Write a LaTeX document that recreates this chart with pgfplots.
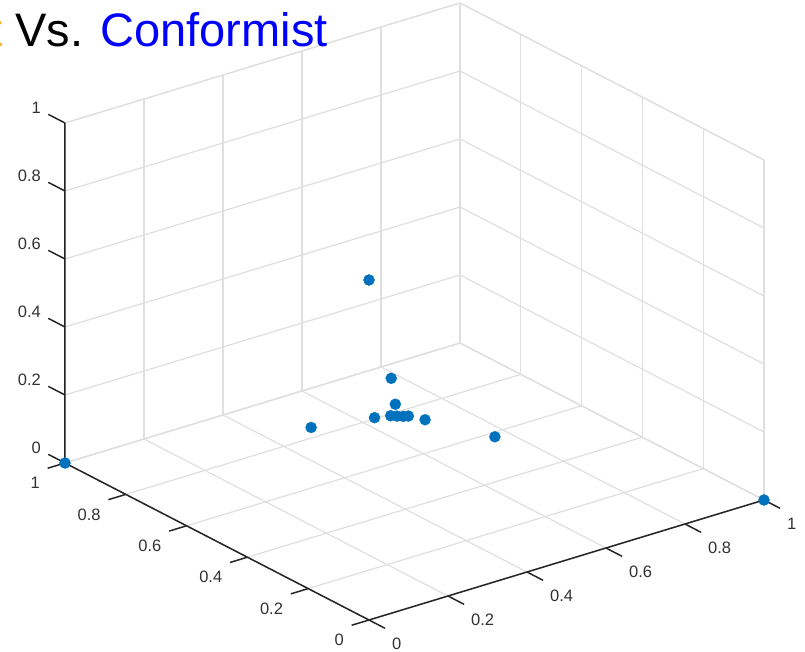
\documentclass[border=0pt]{standalone}
\usepackage{pgfplots}
\pgfplotsset{compat=1.18}
\usepackage{fontspec}
\setmainfont{Liberation Sans}

\definecolor{gridgray}{RGB}{223,223,223}
\definecolor{axiscol}{RGB}{38,38,38}
\definecolor{labelcol}{RGB}{50,50,50}
\definecolor{dotblue}{RGB}{0,114,189}
\definecolor{titleorange}{RGB}{250,170,40}
\definecolor{titleblue}{RGB}{0,0,255}

% shares of the three behaviours for each agent (rows sum to 1)
\pgfplotstableread{
x     y     z
0     1     0
1     0     0
0     0     1
0.244 0.244 0.512
0.306 0.311 0.383
0.308 0.382 0.310
0.246 0.510 0.244
0.379 0.308 0.313
0.508 0.246 0.246
0.325 0.351 0.324
0.334 0.342 0.324
0.343 0.333 0.324
0.349 0.324 0.327
}\shares

\begin{document}
\begin{tikzpicture}
\begin{axis}[
  x={(395pt,120pt)}, y={(-304pt,157pt)}, z={(0pt,340pt)},
  xmin=0, xmax=1, ymin=0, ymax=1, zmin=0, zmax=1,
  xtick={0,0.2,...,1}, ytick={0,0.2,...,1}, ztick={0,0.2,...,1},
  xticklabel={\relax}, yticklabel={\relax}, zticklabel={\relax},
  major tick length=0pt,
  grid=major,
  major grid style={gridgray, line width=1.2pt},
  axis line style={gridgray, line width=1.2pt},
  clip=false,
]
\coordinate (O) at (axis cs:0,0,0);

% front axis lines
\draw[axiscol, line width=1.5pt] (axis cs:1,0,0) -- (axis cs:0,0,0) -- (axis cs:0,1,0) -- (axis cs:0,1,1);

% ticks and labels
\pgfplotsinvokeforeach{0,0.2,0.4,0.6,0.8,1}{
  \draw[axiscol, line width=1.5pt] (axis cs:#1,0,0) -- (axis cs:#1,-0.053,0);
  \node[anchor=west, inner sep=0pt, text=labelcol, font=\fontsize{16.5}{18}\selectfont]
    at ([shift={(23pt,-24pt)}]axis cs:#1,0,0) {#1};
  \draw[axiscol, line width=1.5pt] (axis cs:0,#1,0) -- (axis cs:-0.044,#1,0);
  \node[anchor=east, inner sep=0pt, text=labelcol, font=\fontsize{16.5}{18}\selectfont]
    at ([shift={(-25pt,-20pt)}]axis cs:0,#1,0) {#1};
  \draw[axiscol, line width=1.5pt] (axis cs:0,1,#1) -- (axis cs:0,1.055,#1);
  \node[anchor=east, inner sep=0pt, text=labelcol, font=\fontsize{16.5}{18}\selectfont]
    at ([shift={(-24pt,15pt)}]axis cs:0,1,#1) {#1};
}

\addplot3[only marks, mark=*, mark size=5.5pt,
  mark options={draw=dotblue, fill=dotblue}]
  table[x=x, y=y, z=z] {\shares};
\end{axis}

\node[anchor=base west, inner sep=0pt, font=\fontsize{47}{50}\selectfont]
  at ([shift={(-354pt,573pt)}]O)
  {\llap{\textcolor{titleorange}{Nonconformist}\space}Vs. \textcolor{titleblue}{Conformist}};

\pgfresetboundingbox
\path[use as bounding box] ([shift={(-369pt,-32pt)}]O) rectangle ([shift={(436pt,620pt)}]O);
\end{tikzpicture}
\end{document}
